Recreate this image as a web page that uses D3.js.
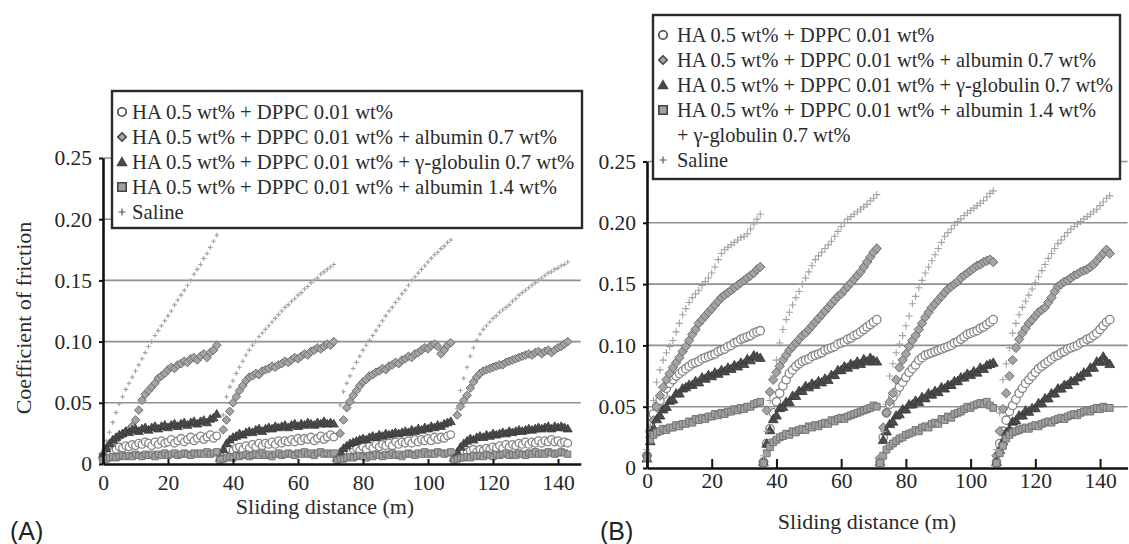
<!DOCTYPE html>
<html>
<head>
<meta charset="utf-8">
<script src="https://cdn.jsdelivr.net/npm/d3@7"></script>
<style>
  body { margin: 0; background: #fff; }
  svg { display: block; }
</style>
</head>
<body>
<svg id="chart" width="1129" height="544"></svg>
<script>
// ---- data -------------------------------------------------------------
// Position inside one reciprocating run (m) and the start of each run (m)
const runDistance = [0,1,2,3,4,5,6,7,8,9,10,11,12,13,14,15,16,17,18,19,20,21,22,23,24,25,26,27,28,29,30,31,32,33,34,35];
const runStart = [0, 36, 72, 108];

const yTicks = [0, 0.05, 0.10, 0.15, 0.20, 0.25];
const yTickLabels = ["0", "0.05", "0.10", "0.15", "0.20", "0.25"];
const xTicks = [0, 20, 40, 60, 80, 100, 120, 140];

const legendA = [
  "HA 0.5 wt% + DPPC 0.01 wt%",
  "HA 0.5 wt% + DPPC 0.01 wt% + albumin 0.7 wt%",
  "HA 0.5 wt% + DPPC 0.01 wt% + γ-globulin 0.7 wt%",
  "HA 0.5 wt% + DPPC 0.01 wt% + albumin 1.4 wt%",
  "Saline"
];
const legendB = [
  "HA 0.5 wt% + DPPC 0.01 wt%",
  "HA 0.5 wt% + DPPC 0.01 wt% + albumin 0.7 wt%",
  "HA 0.5 wt% + DPPC 0.01 wt% + γ-globulin 0.7 wt%",
  "HA 0.5 wt% + DPPC 0.01 wt% + albumin 1.4 wt%",
  "Saline"
];
const legendBWrap = "+ γ-globulin 0.7 wt%";

// Panel (A): coefficient of friction, one array per run
const aCircle = [
  [0.004,0.007,0.009,0.011,0.012,0.014,0.013,0.015,0.014,0.016,0.015,0.017,0.016,0.018,0.017,0.015,0.018,0.016,0.019,0.017,0.018,0.020,0.017,0.019,0.021,0.018,0.020,0.022,0.019,0.021,0.023,0.020,0.022,0.024,0.021,0.023],
  [0.004,0.008,0.010,0.012,0.011,0.013,0.014,0.012,0.015,0.013,0.016,0.014,0.017,0.015,0.017,0.016,0.018,0.016,0.019,0.017,0.019,0.018,0.020,0.018,0.021,0.019,0.021,0.020,0.022,0.019,0.021,0.023,0.020,0.022,0.024,0.022],
  [0.004,0.007,0.009,0.011,0.010,0.012,0.013,0.011,0.014,0.012,0.015,0.013,0.016,0.014,0.016,0.015,0.017,0.015,0.018,0.016,0.018,0.017,0.019,0.017,0.020,0.018,0.020,0.019,0.021,0.019,0.022,0.020,0.022,0.021,0.023,0.024],
  [0.004,0.007,0.008,0.010,0.009,0.011,0.012,0.010,0.012,0.011,0.013,0.012,0.014,0.013,0.015,0.013,0.016,0.014,0.016,0.015,0.017,0.016,0.018,0.016,0.018,0.017,0.019,0.017,0.019,0.018,0.020,0.018,0.019,0.017,0.018,0.017]
];
const aDiamond = [
  [0.008,0.012,0.015,0.018,0.020,0.022,0.024,0.026,0.028,0.031,0.036,0.044,0.052,0.057,0.060,0.063,0.066,0.070,0.072,0.074,0.077,0.079,0.078,0.081,0.082,0.084,0.083,0.086,0.087,0.085,0.088,0.090,0.087,0.091,0.093,0.097],
  [0.008,0.028,0.036,0.043,0.050,0.055,0.060,0.064,0.068,0.071,0.072,0.074,0.073,0.076,0.077,0.078,0.080,0.079,0.081,0.082,0.084,0.083,0.085,0.087,0.086,0.088,0.090,0.089,0.092,0.093,0.095,0.094,0.096,0.098,0.097,0.100],
  [0.008,0.025,0.036,0.046,0.051,0.056,0.060,0.064,0.067,0.069,0.072,0.073,0.075,0.076,0.078,0.077,0.080,0.081,0.083,0.082,0.085,0.086,0.088,0.087,0.090,0.091,0.093,0.095,0.094,0.097,0.098,0.096,0.090,0.093,0.097,0.099],
  [0.008,0.040,0.047,0.052,0.056,0.062,0.067,0.071,0.074,0.076,0.077,0.078,0.079,0.080,0.081,0.081,0.083,0.084,0.085,0.086,0.087,0.088,0.089,0.090,0.089,0.091,0.092,0.090,0.092,0.093,0.091,0.093,0.095,0.096,0.098,0.100]
];
const aTriangle = [
  [0.008,0.013,0.017,0.020,0.022,0.024,0.025,0.027,0.026,0.028,0.029,0.027,0.029,0.030,0.028,0.030,0.031,0.029,0.031,0.032,0.030,0.032,0.033,0.031,0.033,0.034,0.032,0.034,0.035,0.033,0.035,0.036,0.034,0.037,0.038,0.041],
  [0.005,0.012,0.017,0.020,0.022,0.023,0.025,0.024,0.026,0.027,0.026,0.028,0.029,0.027,0.029,0.030,0.029,0.031,0.030,0.031,0.032,0.030,0.032,0.033,0.031,0.033,0.032,0.034,0.033,0.032,0.034,0.033,0.035,0.033,0.034,0.033],
  [0.005,0.010,0.013,0.015,0.017,0.018,0.019,0.020,0.021,0.020,0.022,0.023,0.022,0.024,0.023,0.025,0.024,0.025,0.026,0.025,0.026,0.027,0.026,0.028,0.027,0.029,0.028,0.030,0.029,0.031,0.030,0.032,0.031,0.033,0.034,0.035],
  [0.005,0.010,0.014,0.017,0.019,0.021,0.020,0.022,0.023,0.022,0.024,0.023,0.025,0.024,0.025,0.026,0.025,0.027,0.026,0.027,0.028,0.027,0.028,0.029,0.028,0.029,0.030,0.029,0.030,0.031,0.029,0.031,0.030,0.031,0.030,0.029]
];
const aSquare = [
  [0.003,0.004,0.005,0.006,0.005,0.006,0.007,0.006,0.007,0.006,0.008,0.007,0.006,0.008,0.007,0.008,0.006,0.008,0.007,0.009,0.007,0.008,0.009,0.007,0.008,0.009,0.008,0.007,0.009,0.008,0.009,0.008,0.010,0.008,0.009,0.010],
  [0.003,0.004,0.005,0.006,0.005,0.007,0.006,0.007,0.008,0.006,0.007,0.008,0.007,0.009,0.007,0.008,0.006,0.008,0.009,0.007,0.008,0.009,0.008,0.007,0.009,0.008,0.010,0.008,0.009,0.007,0.009,0.010,0.008,0.009,0.008,0.009],
  [0.003,0.004,0.004,0.005,0.006,0.005,0.006,0.007,0.006,0.005,0.007,0.006,0.008,0.007,0.006,0.008,0.007,0.009,0.007,0.008,0.006,0.008,0.009,0.008,0.007,0.009,0.008,0.010,0.008,0.009,0.008,0.010,0.009,0.008,0.009,0.010],
  [0.003,0.004,0.005,0.005,0.006,0.005,0.007,0.006,0.007,0.006,0.008,0.007,0.006,0.008,0.007,0.008,0.009,0.007,0.008,0.007,0.009,0.008,0.007,0.009,0.008,0.010,0.008,0.009,0.008,0.010,0.009,0.008,0.009,0.010,0.009,0.008]
];
const aSaline = [
  [0.010,0.019,0.026,0.034,0.042,0.049,0.055,0.061,0.066,0.071,0.076,0.081,0.086,0.091,0.096,0.100,0.105,0.109,0.113,0.117,0.121,0.125,0.130,0.134,0.138,0.142,0.146,0.150,0.155,0.159,0.163,0.168,0.172,0.177,0.182,0.187],
  [0.005,0.040,0.055,0.063,0.068,0.074,0.079,0.084,0.089,0.093,0.097,0.100,0.104,0.107,0.110,0.113,0.116,0.119,0.122,0.125,0.128,0.130,0.133,0.135,0.138,0.140,0.143,0.145,0.148,0.150,0.152,0.155,0.157,0.159,0.161,0.163],
  [0.010,0.048,0.059,0.066,0.072,0.078,0.083,0.088,0.093,0.097,0.101,0.105,0.109,0.113,0.117,0.121,0.125,0.128,0.132,0.135,0.139,0.142,0.146,0.150,0.153,0.156,0.159,0.162,0.165,0.168,0.171,0.173,0.176,0.178,0.181,0.183],
  [0.010,0.045,0.060,0.070,0.079,0.088,0.095,0.101,0.106,0.110,0.113,0.116,0.119,0.121,0.124,0.126,0.128,0.130,0.133,0.135,0.138,0.140,0.142,0.144,0.146,0.148,0.150,0.152,0.154,0.156,0.157,0.159,0.160,0.162,0.163,0.165]
];

// Panel (B): coefficient of friction, one array per run
const bCircle = [
  [0.010,0.030,0.044,0.050,0.055,0.060,0.065,0.069,0.072,0.075,0.077,0.079,0.081,0.083,0.085,0.086,0.087,0.089,0.090,0.091,0.092,0.093,0.095,0.096,0.097,0.099,0.100,0.102,0.103,0.105,0.106,0.107,0.108,0.110,0.111,0.112],
  [0.005,0.020,0.032,0.045,0.054,0.061,0.067,0.072,0.077,0.080,0.083,0.085,0.087,0.088,0.089,0.091,0.092,0.093,0.094,0.096,0.097,0.098,0.099,0.101,0.102,0.103,0.105,0.106,0.108,0.109,0.111,0.113,0.115,0.117,0.119,0.121],
  [0.005,0.025,0.045,0.052,0.058,0.062,0.066,0.070,0.074,0.078,0.081,0.084,0.088,0.090,0.092,0.093,0.094,0.095,0.096,0.097,0.098,0.099,0.100,0.102,0.103,0.105,0.107,0.109,0.110,0.111,0.112,0.114,0.115,0.117,0.119,0.121],
  [0.005,0.020,0.030,0.039,0.046,0.051,0.056,0.061,0.065,0.069,0.072,0.075,0.078,0.081,0.083,0.085,0.087,0.089,0.091,0.092,0.094,0.095,0.097,0.098,0.099,0.100,0.102,0.103,0.105,0.106,0.108,0.110,0.113,0.116,0.119,0.121]
];
const bDiamond = [
  [0.010,0.025,0.039,0.050,0.059,0.066,0.072,0.077,0.082,0.086,0.090,0.095,0.099,0.104,0.109,0.113,0.118,0.121,0.124,0.127,0.130,0.133,0.136,0.139,0.141,0.143,0.145,0.147,0.149,0.151,0.153,0.155,0.157,0.159,0.162,0.164],
  [0.005,0.047,0.062,0.072,0.078,0.083,0.088,0.092,0.096,0.099,0.102,0.105,0.108,0.110,0.113,0.116,0.119,0.122,0.125,0.128,0.131,0.134,0.137,0.140,0.142,0.145,0.148,0.151,0.154,0.157,0.160,0.164,0.168,0.172,0.176,0.179],
  [0.008,0.033,0.045,0.054,0.061,0.072,0.082,0.088,0.093,0.099,0.104,0.108,0.113,0.118,0.123,0.127,0.131,0.134,0.137,0.140,0.143,0.146,0.148,0.150,0.152,0.155,0.157,0.159,0.161,0.163,0.165,0.166,0.168,0.169,0.170,0.168],
  [0.010,0.030,0.048,0.061,0.075,0.088,0.098,0.105,0.110,0.114,0.118,0.121,0.124,0.127,0.129,0.131,0.135,0.139,0.144,0.148,0.150,0.152,0.153,0.155,0.157,0.158,0.160,0.161,0.162,0.164,0.166,0.169,0.172,0.175,0.178,0.175]
];
const bTriangle = [
  [0.008,0.022,0.033,0.040,0.043,0.048,0.050,0.055,0.056,0.061,0.061,0.065,0.066,0.068,0.068,0.071,0.070,0.074,0.073,0.076,0.075,0.078,0.077,0.080,0.079,0.082,0.081,0.084,0.083,0.086,0.085,0.089,0.088,0.092,0.091,0.090],
  [0.005,0.020,0.031,0.040,0.043,0.049,0.050,0.054,0.054,0.059,0.059,0.063,0.063,0.067,0.066,0.069,0.068,0.071,0.070,0.073,0.072,0.076,0.076,0.080,0.080,0.083,0.082,0.085,0.084,0.087,0.085,0.089,0.087,0.090,0.088,0.087],
  [0.005,0.023,0.030,0.036,0.038,0.043,0.044,0.048,0.048,0.052,0.052,0.055,0.054,0.058,0.057,0.061,0.060,0.063,0.062,0.066,0.065,0.068,0.068,0.071,0.071,0.074,0.074,0.077,0.076,0.079,0.078,0.082,0.081,0.084,0.085,0.086],
  [0.005,0.015,0.022,0.029,0.032,0.038,0.039,0.043,0.043,0.047,0.046,0.049,0.049,0.053,0.053,0.057,0.057,0.061,0.061,0.065,0.065,0.068,0.068,0.071,0.071,0.074,0.075,0.078,0.078,0.082,0.082,0.087,0.087,0.091,0.087,0.085]
];
const bSquare = [
  [0.008,0.023,0.027,0.029,0.030,0.032,0.031,0.033,0.033,0.035,0.034,0.036,0.036,0.038,0.037,0.040,0.039,0.041,0.040,0.042,0.042,0.044,0.043,0.045,0.044,0.046,0.046,0.048,0.047,0.049,0.048,0.050,0.050,0.052,0.053,0.054],
  [0.004,0.012,0.017,0.021,0.023,0.025,0.026,0.028,0.027,0.030,0.029,0.031,0.032,0.031,0.034,0.033,0.035,0.034,0.036,0.037,0.036,0.039,0.038,0.040,0.041,0.040,0.042,0.043,0.044,0.045,0.046,0.047,0.048,0.049,0.051,0.050],
  [0.004,0.010,0.015,0.018,0.020,0.022,0.024,0.025,0.027,0.028,0.029,0.031,0.030,0.033,0.034,0.033,0.036,0.037,0.036,0.040,0.039,0.042,0.041,0.044,0.045,0.046,0.048,0.050,0.049,0.051,0.052,0.053,0.052,0.054,0.051,0.049],
  [0.004,0.012,0.018,0.024,0.027,0.029,0.030,0.031,0.032,0.033,0.032,0.034,0.035,0.034,0.036,0.037,0.038,0.037,0.039,0.040,0.041,0.040,0.042,0.043,0.044,0.043,0.045,0.046,0.047,0.046,0.048,0.049,0.048,0.050,0.049,0.049]
];
const bSaline = [
  [0.015,0.035,0.055,0.070,0.080,0.088,0.094,0.099,0.104,0.111,0.118,0.125,0.130,0.135,0.139,0.142,0.145,0.149,0.152,0.155,0.159,0.164,0.170,0.175,0.178,0.180,0.182,0.184,0.186,0.188,0.189,0.191,0.195,0.199,0.203,0.207],
  [0.010,0.030,0.055,0.075,0.088,0.102,0.113,0.121,0.127,0.133,0.139,0.144,0.150,0.155,0.160,0.165,0.170,0.173,0.176,0.179,0.182,0.185,0.189,0.193,0.197,0.200,0.203,0.205,0.207,0.209,0.211,0.213,0.215,0.218,0.220,0.223],
  [0.010,0.030,0.052,0.075,0.085,0.094,0.101,0.108,0.116,0.124,0.134,0.140,0.147,0.153,0.159,0.164,0.169,0.174,0.179,0.184,0.189,0.192,0.195,0.198,0.201,0.203,0.206,0.208,0.210,0.212,0.214,0.216,0.218,0.221,0.224,0.226],
  [0.015,0.045,0.072,0.085,0.098,0.110,0.118,0.125,0.131,0.136,0.141,0.146,0.151,0.156,0.161,0.166,0.171,0.175,0.179,0.183,0.186,0.189,0.192,0.195,0.197,0.199,0.201,0.203,0.205,0.207,0.209,0.211,0.214,0.217,0.220,0.222]
];

// ---- styles -----------------------------------------------------------
const SERIF = '"Liberation Serif", Tinos, "Times New Roman", Times, "DejaVu Serif", serif';
const SANS = '"Liberation Sans", Arimo, Arial, sans-serif';

const markerStyle = {
  circle:   { fill: "#ffffff", stroke: "#858585", width: 1.3 },
  diamond:  { fill: "#a4a4a4", stroke: "#6e6e6e", width: 1.0 },
  triangle: { fill: "#4b4b4b", stroke: "#383838", width: 0.8 },
  square:   { fill: "#a0a0a0", stroke: "#747474", width: 1.0 },
  plus:     { fill: "none",    stroke: "#a2a2a2", width: 1.1 }
};

function markerPath(kind, h) {
  switch (kind) {
    case "circle":
      return `M${h},0A${h},${h} 0 1,1 ${-h},0A${h},${h} 0 1,1 ${h},0Z`;
    case "diamond":
      return `M0,${-h}L${h},0L0,${h}L${-h},0Z`;
    case "triangle":
      return `M0,${-h}L${h * 1.05},${h * 0.8}L${-h * 1.05},${h * 0.8}Z`;
    case "square":
      return `M${-h},${-h}H${h}V${h}H${-h}Z`;
    default:
      return `M${-h},0H${h}M0,${-h}V${h}`;
  }
}

const svg = d3.select("#chart");

// ---- panel layout -----------------------------------------------------
const panels = [
  {
    name: "(A)", nameX: 10,
    left: 103, bottom: 464, top: 158, xMax: 147, pxPerM: 3.25,
    xTickSize: 5, xLabelPad: 11, xTitleY: 514, xTitleX: 325,
    yTitle: true, legendFont: 20.7,
    legend: { x0: 112, x1: 582, y0: 91, y1: 228, markerX: 122, textX: 132, rows: [112, 137, 162, 187, 212] },
    entries: legendA,
    series: [
      { kind: "circle",   values: aCircle,   size: 3.8 },
      { kind: "diamond",  values: aDiamond,  size: 4.3 },
      { kind: "triangle", values: aTriangle, size: 4.3 },
      { kind: "square",   values: aSquare,   size: 3.1 },
      { kind: "plus",     values: aSaline,   size: 2.3 }
    ]
  },
  {
    name: "(B)", nameX: 600,
    left: 647, bottom: 468, top: 161.5, xMax: 148.5, pxPerM: 3.236,
    xTickSize: 9, xLabelPad: 5, xTitleY: 529, xTitleX: 867,
    yTitle: false, legendFont: 20.4,
    legend: { x0: 653, x1: 1120, y0: 15, y1: 179, markerX: 663, textX: 677, rows: [35, 60, 85, 110, 160], wrapRow: 135 },
    entries: legendB,
    series: [
      { kind: "circle",   values: bCircle,   size: 4.2 },
      { kind: "diamond",  values: bDiamond,  size: 4.7 },
      { kind: "triangle", values: bTriangle, size: 4.7 },
      { kind: "square",   values: bSquare,   size: 3.4 },
      { kind: "plus",     values: bSaline,   size: 3.6 }
    ]
  }
];

panels.forEach(p => {
  const g = svg.append("g");
  const x = d3.scaleLinear().domain([0, p.xMax]).range([p.left, p.left + p.xMax * p.pxPerM]);
  const y = d3.scaleLinear().domain([0, 0.25]).range([p.bottom, p.top]);
  const xEnd = x.range()[1];

  // horizontal grid lines
  g.append("g").selectAll("line")
    .data(yTicks.filter(d => d > 0))
    .join("line")
    .attr("x1", p.left).attr("x2", xEnd)
    .attr("y1", d => y(d)).attr("y2", d => y(d))
    .attr("stroke", "#8f8f8f").attr("stroke-width", 1.6);

  // data markers, run after run
  p.series.forEach(s => {
    const pts = [];
    s.values.forEach((run, i) => run.forEach((v, j) => pts.push([runStart[i] + runDistance[j], v])));
    const st = markerStyle[s.kind];
    g.append("g").selectAll("path")
      .data(pts)
      .join("path")
      .attr("transform", d => `translate(${x(d[0])},${y(d[1])})`)
      .attr("d", markerPath(s.kind, s.size))
      .attr("fill", st.fill)
      .attr("stroke", st.stroke)
      .attr("stroke-width", st.width);
  });

  // y axis
  const yAxis = g.append("g")
    .attr("transform", `translate(${p.left},0)`)
    .call(d3.axisLeft(y).tickValues(yTicks).tickFormat((d, i) => yTickLabels[i])
      .tickSize(4).tickSizeOuter(0).tickPadding(7));
  // x axis
  const xAxis = g.append("g")
    .attr("transform", `translate(0,${p.bottom})`)
    .call(d3.axisBottom(x).tickValues(xTicks).tickFormat(d3.format("d"))
      .tickSize(-p.xTickSize).tickSizeOuter(0).tickPadding(p.xLabelPad));

  [yAxis, xAxis].forEach(ax => {
    ax.select(".domain").attr("stroke", "#111").attr("stroke-width", 2.6);
    ax.selectAll(".tick line").attr("stroke", "#111").attr("stroke-width", 2);
    ax.selectAll(".tick text")
      .style("font-family", SERIF)
      .style("font-size", "21.5px").attr("fill", "#262626");
  });

  // axis titles
  g.append("text")
    .attr("x", p.xTitleX).attr("y", p.xTitleY)
    .attr("text-anchor", "middle")
    .style("font-family", SERIF).style("font-size", "22px").attr("fill", "#2b2b2b")
    .text("Sliding distance (m)");
  if (p.yTitle) {
    g.append("text")
      .attr("transform", `translate(31,${(p.top + p.bottom) / 2 + 7}) rotate(-90)`)
      .attr("text-anchor", "middle")
      .style("font-family", SERIF).style("font-size", "22px").attr("fill", "#2b2b2b")
      .text("Coefficient of friction");
  }

  // panel letter
  g.append("text")
    .attr("x", p.nameX).attr("y", 540)
    .style("font-family", SANS).style("font-size", "25px").attr("fill", "#222")
    .text(p.name);

  // legend
  const L = p.legend;
  const lg = g.append("g");
  lg.append("rect")
    .attr("x", L.x0).attr("y", L.y0)
    .attr("width", L.x1 - L.x0).attr("height", L.y1 - L.y0)
    .attr("fill", "#fff").attr("stroke", "#2a2a2a").attr("stroke-width", 2.4);
  p.entries.forEach((label, i) => {
    const cy = L.rows[i];
    const s = p.series[i];
    const st = markerStyle[s.kind];
    const isPlus = s.kind === "plus";
    lg.append("path")
      .attr("transform", `translate(${L.markerX},${cy})`)
      .attr("d", markerPath(s.kind, isPlus ? 3.5 : 4.2))
      .attr("fill", s.kind === "circle" ? "#fff" : st.fill)
      .attr("stroke", isPlus ? "#555" : "#444")
      .attr("stroke-width", isPlus ? 1.2 : 1.6);
    lg.append("text")
      .attr("x", L.textX).attr("y", cy + 7)
      .style("font-family", SERIF).style("font-size", p.legendFont + "px").attr("fill", "#2b2b2b")
      .text(label);
  });
  if (L.wrapRow) {
    lg.append("text")
      .attr("x", L.textX).attr("y", L.wrapRow + 7)
      .style("font-family", SERIF).style("font-size", p.legendFont + "px").attr("fill", "#2b2b2b")
      .text(legendBWrap);
  }
});
</script>
</body>
</html>
